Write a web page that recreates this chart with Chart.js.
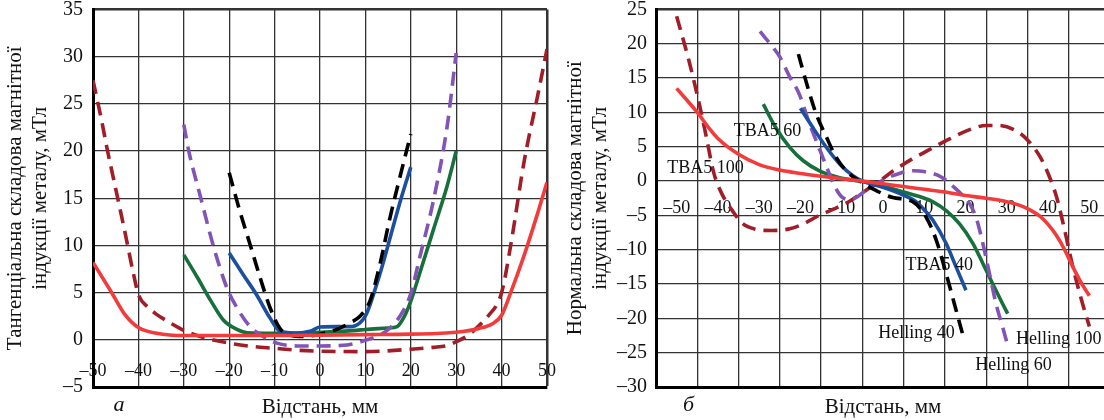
<!DOCTYPE html>
<html>
<head>
<meta charset="utf-8">
<script src="https://cdn.jsdelivr.net/npm/chart.js@4.4.1/dist/chart.umd.min.js"></script>
<style>
  html, body { margin: 0; padding: 0; background: #fff; overflow: hidden; }
  #wrap { position: relative; width: 1104px; height: 420px; overflow: hidden; background: #fff; }
  canvas { position: absolute; top: 0; }
  #cA { left: 0; }
  #cB { left: 552px; }
</style>
</head>
<body>
<div id="wrap">
  <canvas id="cA" width="562" height="420"></canvas>
  <canvas id="cB" width="568" height="420"></canvas>
</div>
<script>
/* ---------- а: тангенціальна складова ---------- */
const xTicksA = [-50, -40, -30, -20, -10, 0, 10, 20, 30, 40, 50];
const yTicksA = [-5, 0, 5, 10, 15, 20, 25, 30, 35];

const aTba100X = [-50, -46, -43, -40, -36, -30, -20, -10, 0, 10, 20, 30, 35, 38, 40, 42, 45, 48, 50];
const aTba100Y = [8.2, 5.1, 2.7, 1.3, 0.7, 0.45, 0.45, 0.45, 0.5, 0.55, 0.6, 0.8, 1.2, 1.7, 2.6, 5.0, 9.0, 13.5, 16.7];

const aHel100X = [-50, -48, -47, -45, -43, -41, -40, -38, -36, -33, -30, -26, -20, -15, -10, -5, 0, 10, 20, 25, 28, 30, 33, 35, 37, 40, 42, 45, 48, 50];
const aHel100Y = [27.5, 23.0, 20.5, 16.0, 11.5, 6.8, 4.8, 3.5, 2.7, 1.8, 1.0, 0.3, -0.35, -0.7, -0.9, -1.1, -1.2, -1.25, -1.0, -0.8, -0.6, -0.2, 0.6, 1.5, 2.5, 5.0, 10.0, 19.0, 26.0, 30.8];

const aTba60X = [-30, -27, -24, -21.3, -18.3, -16, -10, 0, 8, 10, 15, 17, 18, 19, 20, 22, 25, 28, 30];
const aTba60Y = [9.0, 6.6, 4.1, 2.1, 1.1, 0.75, 0.7, 0.8, 1.0, 1.1, 1.25, 1.4, 2.0, 2.9, 4.1, 7.1, 11.7, 16.3, 20.0];

const aHel60X = [-30, -28.9, -26.3, -23.4, -20.5, -18.3, -15.4, -12.5, -9.5, -5, 0, 6, 10.3, 13.2, 15.4, 18, 20, 22, 25, 28, 30];
const aHel60Y = [22.8, 20.0, 15.1, 9.8, 5.5, 3.4, 1.4, 0.35, -0.35, -0.65, -0.65, -0.55, 0.0, 0.5, 1.25, 2.8, 4.9, 8.8, 14.8, 22.6, 30.4];

const aTba40X = [-20, -16.9, -14, -11, -8.8, -5.1, -2.2, 0, 3.7, 6.6, 8.8, 10.2, 12.5, 14, 16, 18, 20];
const aTba40Y = [9.2, 6.9, 4.8, 2.3, 0.9, 0.7, 0.9, 1.35, 1.4, 1.4, 1.8, 2.7, 5.9, 8.3, 11.8, 15.2, 18.3];

const aHel40X = [-20, -17.7, -15.4, -13.2, -11, -8.8, -6.6, -3.7, 0, 3.7, 6.6, 8.8, 11, 13.2, 15.4, 18, 20];
const aHel40Y = [17.7, 13.7, 10.1, 6.6, 3.4, 1.2, 0.5, 0.35, 0.6, 1.1, 1.8, 2.5, 4.1, 8.0, 12.9, 18.0, 21.8];

/* ---------- б: нормальна складова ---------- */
const xGridB = [-55, -45, -35, -25, -15, -5, 5, 15, 25, 35, 45, 55];
const xTicksB = [-50, -40, -30, -20, -10, 0, 10, 20, 30, 40, 50];
const yTicksB = [-30, -25, -20, -15, -10, -5, 0, 5, 10, 15, 20, 25];

const bTba100X = [-50, -45, -42, -40, -35, -30, -25, -20, -15, -10, -5, 0, 5, 10, 15, 20, 25, 30, 33, 35, 38, 40, 42, 44, 46, 48, 50];
const bTba100Y = [13.5, 10.0, 7.6, 6.2, 3.9, 2.4, 1.6, 1.1, 0.7, 0.35, 0.0, -0.4, -0.8, -1.2, -1.6, -2.1, -2.5, -3.0, -3.5, -4.0, -5.1, -6.3, -7.9, -10.0, -12.5, -14.8, -16.7];

const bHel100X = [-50, -47, -44.5, -43, -41, -39, -36.5, -34, -31, -27, -23, -19.5, -15.5, -12, -8, -5, -1.5, 2.5, 7, 11, 16, 21, 25, 28, 32, 35, 38, 40, 42, 44, 46, 48, 50];
const bHel100Y = [24.0, 17.5, 11.2, 7.0, 1.2, -1.9, -4.3, -6.2, -7.0, -7.2, -7.0, -6.3, -5.0, -4.1, -2.9, -1.7, -0.3, 1.5, 3.2, 4.5, 6.1, 7.5, 8.1, 8.1, 7.4, 6.0, 3.6, 1.1, -2.2, -7.1, -12.5, -17.1, -21.2];

const bTba60X = [-29, -26, -22.6, -19.4, -15.4, -10.5, -5.7, 0, 5, 10, 12, 15.3, 18.5, 21.8, 24.2, 26.6, 29, 30.2];
const bTba60Y = [11.2, 7.8, 4.9, 3.0, 1.5, 0.5, 0.0, -0.7, -1.6, -2.5, -3.0, -4.3, -6.2, -9.1, -12.0, -15.0, -17.9, -19.3];

const bHel60X = [-29.8, -26.3, -25, -22.7, -20.3, -17.9, -15.6, -13.3, -11.5, -10, -8, -6, -4.9, -1.6, 2.4, 7.3, 9.9, 14.1, 17.4, 19.9, 21.2, 22.6, 24.2, 25.8, 27.4, 29, 30.2];
const bHel60Y = [21.8, 19.2, 18.1, 15.3, 12.7, 8.5, 5.0, 1.5, -1.0, -2.3, -2.7, -2.2, -1.7, -0.4, 0.8, 1.5, 1.4, 0.6, -1.0, -2.5, -3.5, -5.4, -9.1, -13.5, -17.9, -21.3, -23.9];

const bTba40X = [-20, -17, -13.7, -10.5, -7.3, -4.9, 0, 4, 8, 10, 12.1, 15.3, 17.7, 20.1];
const bTba40Y = [10.6, 7.8, 4.9, 2.5, 0.8, 0.0, -0.9, -1.8, -3.0, -4.2, -5.7, -9.1, -12.5, -15.9];

const bHel40X = [-20.5, -18.2, -16.2, -13.7, -11.3, -8.9, -5.7, -1.6, 2.4, 7.2, 10.4, 12.9, 15.3, 17.3, 19.7];
const bHel40Y = [18.5, 13.6, 9.8, 6.4, 3.4, 1.5, 0.0, -1.4, -2.4, -3.0, -5.2, -8.6, -13.5, -17.9, -23.2];

// підписи кривих на панелі б (у координатах даних)
const notesB = [
  { text: 'TBA5 60', x: -28, y: 7.25 },
  { text: 'TBA5 100', x: -43, y: 1.9 },
  { text: 'TBA5 40', x: 13.6, y: -12.2 },
  { text: 'Helling 40', x: 8.1, y: -22.2 },
  { text: 'Helling 100', x: 42.6, y: -23.1 },
  { text: 'Helling 60', x: 31.6, y: -26.8 },
];

/* ---------- оформлення ---------- */
const SERIF = "'Liberation Serif', 'Times New Roman', serif";
Chart.defaults.font.family = SERIF;
Chart.defaults.color = '#111';

const DASH = [14, 8];
const COL = {
  tba100: '#f23b3b', hel100: '#a11d27',
  tba60: '#17703b', hel60: '#8254b5',
  tba40: '#1d4f9f', hel40: '#000000',
};
const GRID = '#333';

const pts = (xs, ys) => xs.map((x, i) => ({ x, y: ys[i] }));
const fmt = v => v < 0 ? '\u2013' + Math.abs(v) : String(v);
const setTicks = arr => s => { s.ticks = arr.map(v => ({ value: v })); };
const font = size => ({ family: SERIF, size });

function line(xs, ys, color, dashed) {
  return {
    data: pts(xs, ys), borderColor: color, borderWidth: 3.6,
    borderDash: dashed ? DASH : [], pointRadius: 0, fill: false,
    cubicInterpolationMode: 'monotone', borderCapStyle: 'butt',
  };
}

// текстові підписи + літера панелі
const notesPlugin = {
  id: 'notes',
  afterDatasetsDraw(chart, args, opts) {
    const { ctx, scales: { x, y }, chartArea } = chart;
    ctx.save();
    ctx.fillStyle = '#111';
    ctx.textAlign = 'center';
    ctx.textBaseline = 'middle';
    ctx.font = '18px ' + SERIF;
    (opts.items || []).forEach(n => ctx.fillText(n.text, x.getPixelForValue(n.x), y.getPixelForValue(n.y)));
    if (opts.letter) {
      ctx.font = 'italic 22px ' + SERIF;
      ctx.fillText(opts.letter, chartArea.left + opts.letterDx, 405);
    }
    ctx.restore();
  }
};

function makeChart(id, o) {
  return new Chart(document.getElementById(id), {
    type: 'line',
    data: { datasets: o.datasets },
    plugins: [notesPlugin],
    options: {
      responsive: false, animation: false,
      layout: { padding: { top: 9.5, right: o.padRight, left: 0, bottom: 0 } },
      plugins: { legend: { display: false }, tooltip: { enabled: false }, notes: o.notes },
      scales: {
        x: {
          type: 'linear', min: o.xMin, max: o.xMax, afterBuildTicks: setTicks(o.xGrid),
          ticks: { display: false },
          grid: { color: GRID, drawTicks: false, lineWidth: c => (c.tick && c.tick.value === o.xMax) ? 2.5 : 1.3 },
          border: { display: true, color: '#000', width: 3 },
          title: { display: true, text: 'Відстань, мм', font: font(21), padding: { top: 0, bottom: 0 } },
          afterFit: s => { s.height = 33; },
        },
        xl: {
          type: 'linear', axis: 'x', position: { y: 0 }, min: o.xMin, max: o.xMax,
          afterBuildTicks: setTicks(o.xTicks),
          grid: { display: false }, border: { display: false },
          ticks: { font: font(18), padding: o.xPad, callback: fmt, autoSkip: false, maxRotation: 0 },
          afterFit: s => { s.paddingLeft = 0; s.paddingRight = 0; },
        },
        y: {
          type: 'linear', position: 'left', min: o.yMin, max: o.yMax, afterBuildTicks: setTicks(o.yTicks),
          grid: { color: GRID, drawTicks: false, lineWidth: c => (c.tick && c.tick.value === o.yMax) ? 2.5 : 1.3 },
          border: { color: '#000', width: 3 },
          ticks: { font: font(20), padding: o.yPad, callback: fmt, autoSkip: false },
          title: { display: true, text: o.yTitle, font: { family: SERIF, size: 21, lineHeight: 25 / 21 }, padding: { top: o.titlePad, bottom: 0 } },
          afterFit: s => { s.width = o.yWidth; s.paddingTop = 0; s.paddingBottom = 0; },
        },
      },
    },
  });
}

makeChart('cA', {
  xMin: -50, xMax: 50, yMin: -5, yMax: 35,
  xGrid: xTicksA, xTicks: xTicksA, yTicks: yTicksA,
  yWidth: 93, padRight: 15, xPad: 13, yPad: 10, titlePad: 2.5,
  yTitle: ['Тангенціальна складова магнітної', 'індукції металу, мТл'],
  notes: { items: [], letter: 'а', letterDx: 26 },
  datasets: [
    line(aTba100X, aTba100Y, COL.tba100, false),
    line(aHel40X, aHel40Y, COL.hel40, true),
    line(aTba40X, aTba40Y, COL.tba40, false),
    line(aHel60X, aHel60Y, COL.hel60, true),
    line(aTba60X, aTba60Y, COL.tba60, false),
    line(aHel100X, aHel100Y, COL.hel100, true),
  ],
});

makeChart('cB', {
  xMin: -55, xMax: 55, yMin: -30, yMax: 25,
  xGrid: xGridB, xTicks: xTicksB, yTicks: yTicksB,
  yWidth: 104, padRight: 10, xPad: 8, yPad: 9, titlePad: 10.5,
  yTitle: ['Нормальна складова магнітної', 'індукції металу, мТл'],
  notes: { items: notesB, letter: 'б', letterDx: 32.5 },
  datasets: [
    line(bTba100X, bTba100Y, COL.tba100, false),
    line(bHel40X, bHel40Y, COL.hel40, true),
    line(bTba40X, bTba40Y, COL.tba40, false),
    line(bHel60X, bHel60Y, COL.hel60, true),
    line(bTba60X, bTba60Y, COL.tba60, false),
    line(bHel100X, bHel100Y, COL.hel100, true),
  ],
});
</script>
</body>
</html>
